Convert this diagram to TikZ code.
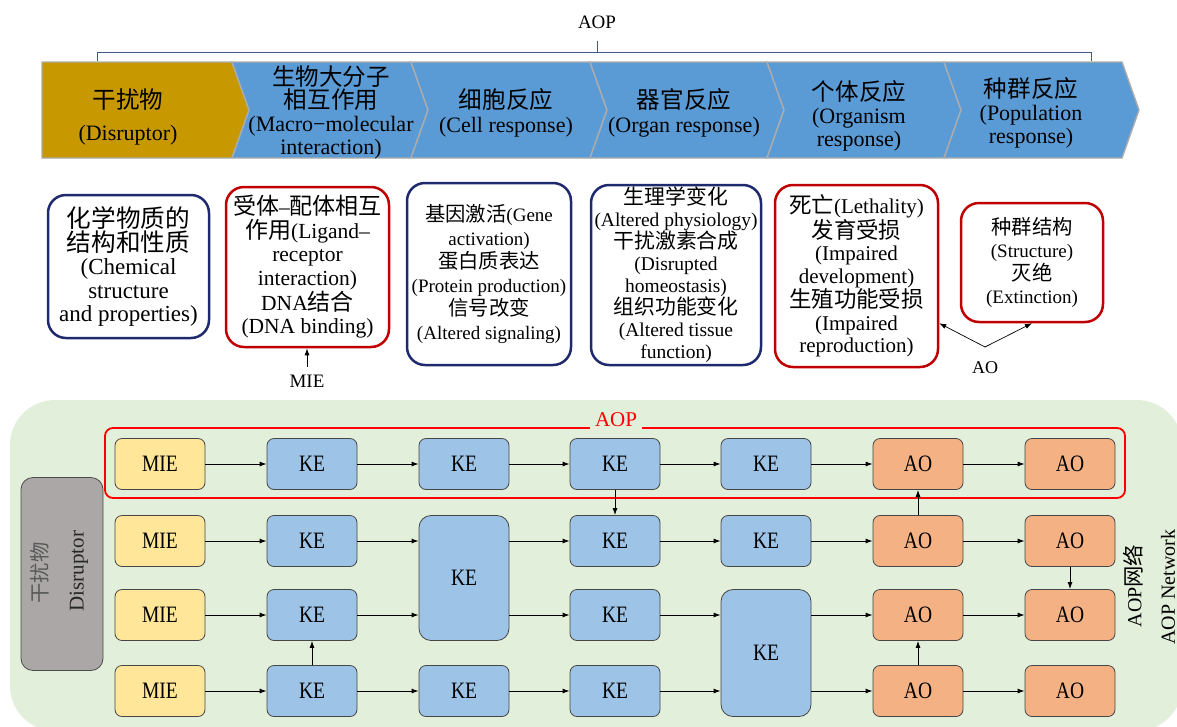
\documentclass[tikz,border=0pt]{standalone}
\usepackage{fontspec}
\setmainfont{Liberation Serif}
\newfontfamily\condf{Liberation Serif}[FakeStretch=0.83]
\newfontfamily\cjk[Scale=1.07]{Noto Sans CJK SC}
\newcommand{\zh}[1]{{\cjk #1}}
\usetikzlibrary{arrows.meta,calc}
\definecolor{goldc}{HTML}{C89800}
\definecolor{chevblue}{HTML}{5B9BD5}
\definecolor{navyb}{HTML}{1F2A6E}
\definecolor{redb}{HTML}{C00000}
\definecolor{bgreen}{HTML}{E2EFDA}
\definecolor{mieyel}{HTML}{FFE699}
\definecolor{keblue}{HTML}{9DC3E6}
\definecolor{aoor}{HTML}{F4B183}
\definecolor{disgray}{HTML}{ABA7A7}
\definecolor{brk}{HTML}{3F5A8A}
\tikzset{
  chev/.style={draw=gray!65, line width=1.4pt, line join=miter},
  bt/.style={align=center, inner sep=0pt},
  mbox/.style={draw, line width=2.5pt, rounded corners=18pt, align=center, inner sep=0pt},
  navybox/.style={mbox, draw=navyb},
  redbox/.style={mbox, draw=redb},
  gnode/.style={draw=gray!55!black, line width=0.8pt, rounded corners=7pt, minimum width=90pt, minimum height=51pt, inner sep=0pt, font=\condf\fontsize{23.5}{26}\selectfont},
  mie/.style={gnode, fill=mieyel},
  ke/.style={gnode, fill=keblue},
  ao/.style={gnode, fill=aoor},
  arr/.style={-{Latex[length=7pt,width=5pt]}, line width=0.9pt, black},
  lab/.style={inner sep=0pt},
}
\begin{document}
\begin{tikzpicture}[x=1pt,y=-1pt]
\useasboundingbox (0,0) rectangle (1177,726);
\begin{scope}
\clip (0,0) rectangle (1177,726);
% ---------- top bracket ----------
\node[lab, font=\fontsize{19}{22}\selectfont] (aoptop) at (597,22) {AOP};
\coordinate (bl) at (97,61);
\coordinate (br) at (1091,61);
\coordinate (bm) at (597,41);
\draw[brk, line width=1pt] (bl) -- (bl |- 0,52) -- (br |- 0,52) -- (br);
\draw[brk, line width=1pt] (bm) -- (bm |- 0,52);
% ---------- chevrons ----------
\fill[goldc] (42,62) -- (232,62) -- (249,110) -- (232,158) -- (42,158) -- cycle;
\draw[chev] (42,62) -- (232,62) -- (249,110) -- (232,158) -- (42,158) -- cycle;
\foreach \a/\b in {232/411, 411/590, 590/767, 767/944, 944/1122}{
  \fill[chevblue] (\a,62) -- (\b,62) -- (\b+17,110) -- (\b,158) -- (\a,158) -- (\a+17,110) -- cycle;
  \draw[chev] (\a,62) -- (\b,62) -- (\b+17,110) -- (\b,158) -- (\a,158) -- (\a+17,110) -- cycle;
}
\node[bt, font=\fontsize{22}{23}\selectfont] (c1) at (128,117) {\zh{干扰物}\\[9pt](Disruptor)};
\node[bt, font=\fontsize{22}{23}\selectfont] (c2) at (331,112) {\zh{生物大分子}\\\zh{相互作用}\\(Macro−molecular\\interaction)};
\node[bt, font=\fontsize{22}{24}\selectfont] (c3) at (506,113) {\zh{细胞反应}\\(Cell response)};
\node[bt, font=\fontsize{22}{24}\selectfont] (c4) at (684,113) {\zh{器官反应}\\(Organ response)};
\node[bt, font=\fontsize{22}{23}\selectfont] (c5) at (859,116) {\zh{个体反应}\\(Organism\\response)};
\node[bt, font=\fontsize{22}{23}\selectfont] (c6) at (1031,113) {\zh{种群反应}\\(Population\\response)};
% ---------- middle boxes ----------
\node[navybox, minimum width=161pt, minimum height=143pt, font=\fontsize{23}{23.5}\selectfont] (b1) at (128.5,266.5)
  {\zh{化学物质的}\\\zh{结构和性质}\\(Chemical\\structure\\and properties)};
\node[redbox, minimum width=163pt, minimum height=160pt, font=\fontsize{21.5}{23.5}\selectfont] (b2) at (307.5,267)
  {\zh{受体}–\zh{配体相互}\\\zh{作用}(Ligand–\\receptor\\interaction)\\DNA\zh{结合}\\(DNA binding)};
\node[navybox, minimum width=164pt, minimum height=182pt, font=\fontsize{19}{23.5}\selectfont] (b3) at (489,274)
  {\zh{基因激活}(Gene\\activation)\\\zh{蛋白质表达}\\(Protein production)\\\zh{信号改变}\\(Altered signaling)};
\node[navybox, minimum width=170pt, minimum height=180pt, font=\fontsize{19.5}{22}\selectfont] (b4) at (676,275)
  {\zh{生理学变化}\\(Altered physiology)\\\zh{干扰激素合成}\\(Disrupted\\homeostasis)\\\zh{组织功能变化}\\(Altered tissue\\function)};
\node[redbox, minimum width=163pt, minimum height=182pt, font=\fontsize{21}{22.5}\selectfont] (b5) at (856.5,276)
  {\zh{死亡}(Lethality)\\\zh{发育受损}\\(Impaired\\development)\\\zh{生殖功能受损}\\(Impaired\\reproduction)};
\node[redbox, minimum width=142pt, minimum height=119pt, font=\fontsize{19}{23}\selectfont] (b6) at (1032,262.5)
  {\zh{种群结构}\\(Structure)\\\zh{灭绝}\\(Extinction)};
\node[lab, font=\fontsize{19}{22}\selectfont] (mielab) at (307,381) {MIE};
\draw[arr] ($(mielab.north)+(0,-8)$) -- (mielab.north |- b2.south);
\node[lab, font=\fontsize{18}{22}\selectfont] (aolab) at (985,368) {AO};
\coordinate (aoapex) at (985,347);
\draw[arr, line width=0.7pt] (aoapex) -- (b5.east |- b6.south);
\draw[arr, line width=0.7pt] (aoapex) -- (b6.south);
% ---------- bottom network ----------
\fill[bgreen] (10,400) [rounded corners=45pt] rectangle (1182,731);
\node[draw=gray!60!black, fill=disgray, rounded corners=12pt, minimum width=82pt, minimum height=193pt, line width=0.8pt] (dis) at (62,574) {};
\node[lab, rotate=90, text=black!65, font=\fontsize{19}{22}\selectfont] (disz) at (40,573) {\zh{干扰物}};
\node[lab, rotate=90, text=black!85, font=\fontsize{21}{22}\selectfont] (dise) at (79,571) {Disruptor};
\node[lab, rotate=90, font=\fontsize{20}{22}\selectfont] (netz) at (1133,586) {AOP\zh{网络}};
\node[lab, rotate=90, font=\fontsize{20}{22}\selectfont] (nete) at (1168,587) {AOP Network};
% red AOP frame
\draw[red, line width=1.8pt, rounded corners=8pt] (105,428) rectangle (1125,498);
\node[fill=bgreen, text=red, inner xsep=5pt, inner ysep=4pt, font=\fontsize{21}{22}\selectfont] (aopred) at (616,420) {AOP};
% row 1
\node[mie] (m1) at (160,464) {MIE};
\node[ke] (k12) at (312,464) {KE};
\node[ke] (k13) at (464,464) {KE};
\node[ke] (k14) at (615,464) {KE};
\node[ke] (k15) at (766,464) {KE};
\node[ao] (a16) at (918,464) {AO};
\node[ao] (a17) at (1070,464) {AO};
% row 2
\node[mie] (m2) at (160,541) {MIE};
\node[ke] (k22) at (312,541) {KE};
\node[ke, minimum height=125pt, rounded corners=12pt] (t1) at (464,578) {KE};
\node[ke] (k24) at (615,541) {KE};
\node[ke] (k25) at (766,541) {KE};
\node[ao] (a26) at (918,541) {AO};
\node[ao] (a27) at (1070,541) {AO};
% row 3
\node[mie] (m3) at (160,615) {MIE};
\node[ke] (k32) at (312,615) {KE};
\node[ke] (k34) at (615,615) {KE};
\node[ke, minimum height=127pt, rounded corners=12pt] (t2) at (766,653) {KE};
\node[ao] (a36) at (918,615) {AO};
\node[ao] (a37) at (1070,615) {AO};
% row 4
\node[mie] (m4) at (160,691) {MIE};
\node[ke] (k42) at (312,691) {KE};
\node[ke] (k43) at (464,691) {KE};
\node[ke] (k44) at (615,691) {KE};
\node[ao] (a46) at (918,691) {AO};
\node[ao] (a47) at (1070,691) {AO};
% horizontal arrows
\foreach \u/\v in {m1/k12, k12/k13, k13/k14, k14/k15, k15/a16, a16/a17,
                   m2/k22, k24/k25, k25/a26, a26/a27,
                   m3/k32, a36/a37,
                   m4/k42, k42/k43, k43/k44, a46/a47}
  \draw[arr] (\u.east) -- (\v.west);
\draw[arr] (k22.east) -- (k22.east -| t1.west);
\draw[arr] (t1.east |- k24.west) -- (k24.west);
\draw[arr] (k32.east) -- (k32.east -| t1.west);
\draw[arr] (t1.east |- k34.west) -- (k34.west);
\draw[arr] (k34.east) -- (k34.east -| t2.west);
\draw[arr] (t2.east |- a36.west) -- (a36.west);
\draw[arr] (k44.east) -- (k44.east -| t2.west);
\draw[arr] (t2.east |- a46.west) -- (a46.west);
% vertical arrows
\draw[arr] (k42.north) -- (k32.south);
\draw[arr] (k14.south) -- (k24.north);
\draw[arr] (a26.north) -- (a16.south);
\draw[arr] (a27.south) -- (a37.north);
\draw[arr] (a46.north) -- (a36.south);
\end{scope}
\end{tikzpicture}
\end{document}
